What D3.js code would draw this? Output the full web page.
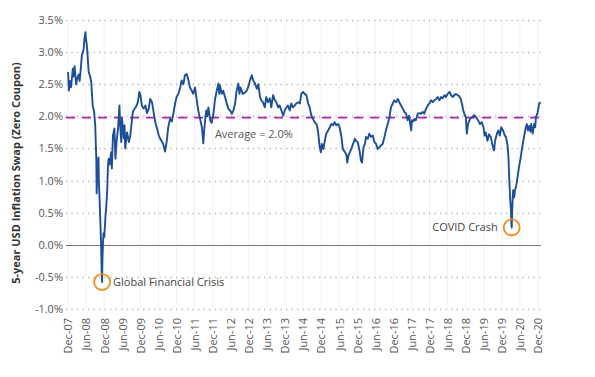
<!DOCTYPE html>
<html><head><meta charset="utf-8">
<script src="https://cdn.jsdelivr.net/npm/d3@7"></script>
<style>
html,body{margin:0;padding:0;background:#fff;}
svg{display:block;font-family:"Open Sans",sans-serif;}
</style></head>
<body><svg id="c" width="595" height="377"></svg>
<script>
// decimal year of each observation
const dates = [2007.92,2007.94,2007.97,2008.00,2008.05,2008.07,2008.10,2008.14,2008.17,2008.21,2008.24,2008.28,2008.30,2008.35,2008.37,2008.40,2008.41,2008.44,2008.47,2008.49,2008.53,2008.56,2008.60,2008.64,2008.67,2008.70,2008.71,2008.73,2008.76,2008.77,2008.79,2008.81,2008.83,2008.85,2008.86,2008.87,2008.89,2008.90,2008.92,2008.95,2008.97,2009.00,2009.02,2009.04,2009.07,2009.11,2009.13,2009.16,2009.20,2009.23,2009.26,2009.30,2009.34,2009.36,2009.39,2009.41,2009.46,2009.48,2009.50,2009.55,2009.60,2009.64,2009.67,2009.71,2009.76,2009.80,2009.85,2009.89,2009.92,2009.96,2010.01,2010.06,2010.10,2010.15,2010.19,2010.24,2010.29,2010.33,2010.38,2010.43,2010.47,2010.52,2010.55,2010.60,2010.65,2010.69,2010.74,2010.79,2010.83,2010.88,2010.92,2010.97,2011.02,2011.06,2011.11,2011.15,2011.20,2011.25,2011.29,2011.34,2011.38,2011.43,2011.48,2011.52,2011.57,2011.62,2011.66,2011.69,2011.74,2011.77,2011.80,2011.85,2011.89,2011.94,2011.98,2012.03,2012.08,2012.10,2012.12,2012.17,2012.21,2012.26,2012.31,2012.35,2012.40,2012.45,2012.49,2012.54,2012.58,2012.63,2012.66,2012.69,2012.75,2012.81,2012.86,2012.90,2012.95,2013.00,2013.04,2013.09,2013.14,2013.18,2013.23,2013.26,2013.31,2013.36,2013.40,2013.45,2013.50,2013.54,2013.59,2013.64,2013.68,2013.73,2013.77,2013.82,2013.87,2013.91,2013.96,2014.00,2014.05,2014.09,2014.14,2014.19,2014.23,2014.28,2014.33,2014.37,2014.42,2014.46,2014.51,2014.56,2014.60,2014.65,2014.69,2014.74,2014.79,2014.83,2014.88,2014.91,2014.94,2014.98,2015.02,2015.06,2015.11,2015.16,2015.20,2015.25,2015.29,2015.34,2015.39,2015.43,2015.48,2015.52,2015.57,2015.62,2015.64,2015.68,2015.72,2015.77,2015.80,2015.85,2015.88,2015.93,2015.98,2016.02,2016.05,2016.09,2016.13,2016.16,2016.21,2016.25,2016.30,2016.35,2016.39,2016.44,2016.48,2016.53,2016.58,2016.62,2016.67,2016.71,2016.76,2016.81,2016.85,2016.90,2016.94,2016.99,2017.04,2017.08,2017.13,2017.18,2017.22,2017.27,2017.31,2017.35,2017.39,2017.41,2017.43,2017.47,2017.50,2017.54,2017.59,2017.64,2017.68,2017.73,2017.77,2017.82,2017.87,2017.91,2017.96,2018.01,2018.05,2018.10,2018.14,2018.19,2018.24,2018.28,2018.33,2018.37,2018.42,2018.47,2018.51,2018.56,2018.60,2018.65,2018.69,2018.73,2018.78,2018.82,2018.85,2018.89,2018.92,2018.95,2018.98,2019.04,2019.10,2019.15,2019.20,2019.26,2019.31,2019.36,2019.41,2019.44,2019.47,2019.52,2019.56,2019.61,2019.65,2019.70,2019.73,2019.78,2019.82,2019.86,2019.90,2019.95,2020.00,2020.03,2020.07,2020.10,2020.12,2020.15,2020.17,2020.18,2020.19,2020.21,2020.23,2020.26,2020.28,2020.31,2020.35,2020.39,2020.44,2020.48,2020.53,2020.58,2020.61,2020.64,2020.68,2020.71,2020.73,2020.77,2020.81,2020.84,2020.86,2020.90,2020.93,2020.95,2020.99];
// 5-year USD inflation swap rate, %
const swapRate = [2.69,2.40,2.55,2.45,2.74,2.62,2.78,2.50,2.58,2.65,2.55,2.80,2.95,3.05,3.20,3.31,3.22,3.10,2.85,2.69,2.62,2.53,2.17,2.07,1.86,1.34,0.80,1.20,1.36,1.00,0.72,0.40,0.04,-0.45,-0.58,-0.20,0.10,0.18,0.12,0.41,0.55,0.82,1.19,1.34,1.25,1.44,1.19,1.70,1.81,1.34,1.60,1.81,2.17,1.86,1.60,1.97,1.66,1.86,1.50,1.75,1.60,1.70,1.86,2.07,2.12,2.15,2.22,2.38,2.33,2.17,2.12,2.17,2.05,2.12,2.27,2.22,2.05,1.91,1.81,1.70,1.65,1.60,1.57,1.45,1.62,1.83,1.96,1.92,2.04,2.20,2.30,2.35,2.45,2.56,2.50,2.64,2.66,2.56,2.45,2.40,2.35,2.45,2.25,2.09,1.96,1.83,1.58,1.83,2.09,2.00,2.14,1.94,1.90,2.04,2.25,2.40,2.51,2.35,2.48,2.35,2.40,2.30,2.20,2.12,2.09,2.04,2.09,2.20,2.40,2.51,2.35,2.45,2.35,2.37,2.40,2.45,2.56,2.64,2.56,2.51,2.43,2.50,2.30,2.25,2.22,2.14,2.30,2.22,2.28,2.14,2.33,2.25,2.22,2.14,2.17,2.09,2.01,2.09,2.14,2.17,2.09,2.20,2.14,2.17,2.20,2.22,2.20,2.35,2.38,2.35,2.33,2.20,2.14,2.01,1.96,1.91,1.88,1.78,1.52,1.44,1.57,1.49,1.62,1.73,1.78,1.83,1.88,1.86,1.91,1.86,1.88,1.83,1.68,1.49,1.45,1.40,1.28,1.40,1.45,1.52,1.57,1.65,1.62,1.60,1.47,1.31,1.28,1.52,1.57,1.68,1.65,1.73,1.68,1.70,1.60,1.57,1.49,1.52,1.55,1.57,1.68,1.78,1.88,1.99,2.14,2.20,2.25,2.22,2.27,2.22,2.17,2.12,2.07,2.04,1.94,2.01,1.85,1.78,1.94,1.92,1.96,1.94,2.04,2.05,2.04,2.07,2.04,2.12,2.17,2.20,2.25,2.22,2.25,2.27,2.30,2.25,2.30,2.28,2.33,2.30,2.35,2.38,2.33,2.30,2.33,2.35,2.33,2.32,2.27,2.18,2.09,2.02,1.99,1.73,1.88,1.96,1.99,2.02,1.99,1.94,1.88,1.91,1.83,1.70,1.75,1.62,1.72,1.68,1.57,1.47,1.62,1.73,1.78,1.70,1.83,1.78,1.70,1.68,1.57,1.36,1.05,0.69,0.53,0.33,0.27,0.64,0.85,0.74,0.85,0.90,1.05,1.21,1.36,1.52,1.68,1.83,1.88,1.78,1.85,1.76,1.88,1.73,1.88,1.83,1.99,2.04,2.14,2.20,2.22];
const tickLabels = ["Dec-07","Jun-08","Dec-08","Jun-09","Dec-09","Jun-10","Dec-10","Jun-11","Dec-11","Jun-12","Dec-12","Jun-13","Dec-13","Jun-14","Dec-14","Jun-15","Dec-15","Jun-16","Dec-16","Jun-17","Dec-17","Jun-18","Dec-18","Jun-19","Dec-19","Jun-20","Dec-20"];
const tickDates = [2007.917,2008.417,2008.917,2009.417,2009.917,2010.417,2010.917,2011.417,2011.917,2012.417,2012.917,2013.417,2013.917,2014.417,2014.917,2015.417,2015.917,2016.417,2016.917,2017.417,2017.917,2018.417,2018.917,2019.417,2019.917,2020.417,2020.917];
const yTicks = [-1.0,-0.5,0.0,0.5,1.0,1.5,2.0,2.5,3.0,3.5];
const averageRate = 1.98;
const averageLabel = "Average = 2.0%";
const averageLabelDate = 2011.98;
const annotations = [
  {label:"Global Financial Crisis", date:2008.86, value:-0.58, side:"right"},
  {label:"COVID Crash", date:2020.19, value:0.27, side:"left"}
];
const yTitle = "5-year USD Inflation Swap (Zero Coupon)";

const svg = d3.select("#c");
const plotLeft = 66, plotRight = 541;
const x = d3.scaleLinear().domain([tickDates[0], tickDates[tickDates.length-1]]).range([68, 538]);
const y = d3.scaleLinear().domain([-1, 3.5]).range([309, 20]);

// faint vertical grid
svg.append("g").selectAll("line").data(tickDates).join("line")
  .attr("x1", d=>x(d)).attr("x2", d=>x(d)).attr("y1", 20).attr("y2", 309)
  .attr("stroke", "#f2f2f2").attr("stroke-width", 1);

// horizontal dotted grid
svg.append("g").selectAll("line").data(yTicks.filter(d=>d!==0)).join("line")
  .attr("x1", plotLeft).attr("x2", plotRight)
  .attr("y1", d=>Math.round(y(d))+0.5).attr("y2", d=>Math.round(y(d))+0.5)
  .attr("stroke", "#b5b5b5").attr("stroke-width", 1.3).attr("stroke-dasharray", "1.3,4.2");

// zero line
svg.append("line").attr("x1", plotLeft).attr("x2", plotRight)
  .attr("y1", Math.round(y(0))+0.5).attr("y2", Math.round(y(0))+0.5)
  .attr("stroke", "#777").attr("stroke-width", 1);

// y axis
const yAxis = d3.axisLeft(y).tickValues(yTicks).tickSize(0).tickPadding(3)
  .tickFormat(d => d.toFixed(1) + "%");
const gy = svg.append("g").attr("transform", `translate(${plotLeft},0)`).call(yAxis);
gy.select(".domain").remove();
gy.selectAll("text").attr("fill", "#555").attr("font-size", "11px").attr("font-family", "Open Sans");

// x axis
const xAxis = d3.axisBottom(x).tickValues(tickDates).tickSize(0)
  .tickFormat((d,i) => tickLabels[i]);
const gx = svg.append("g").attr("transform", `translate(0,313)`).call(xAxis);
gx.select(".domain").remove();
gx.selectAll("text").attr("fill", "#555").attr("font-size", "11px").attr("font-family", "Open Sans")
  .attr("transform", "rotate(-90)").attr("text-anchor", "end").attr("dy", "0.35em").attr("y", 0).attr("x", -5);

// average line
svg.append("line").attr("x1", plotLeft).attr("x2", plotRight)
  .attr("y1", y(averageRate)).attr("y2", y(averageRate))
  .attr("stroke", "#b21fb5").attr("stroke-width", 1.6).attr("stroke-dasharray", "9,7");

// data line
const series = dates.map((d,i)=>({d, v: swapRate[i]}));
svg.append("path").datum(series)
  .attr("fill", "none").attr("stroke", "#1d4f98").attr("stroke-width", 1.9)
  .attr("stroke-linejoin", "round")
  .attr("d", d3.line().x(p=>x(p.d)).y(p=>y(p.v)));

svg.append("text").attr("x", x(averageLabelDate)).attr("y", y(averageRate)+20)
  .attr("fill", "#555").attr("font-size", "11px").text(averageLabel);

// annotations
annotations.forEach(a => {
  const cx = x(a.date), cy = y(a.value);
  svg.append("circle").attr("cx", cx).attr("cy", cy).attr("r", 8)
    .attr("fill", "none").attr("stroke", "#f38b1c").attr("stroke-width", 1.8);
  svg.append("text")
    .attr("x", a.side === "right" ? cx + 11 : cx - 14)
    .attr("y", cy + 4)
    .attr("text-anchor", a.side === "right" ? "start" : "end")
    .attr("fill", "#444").attr("font-size", "11px").text(a.label);
});

// y title
svg.append("text").attr("transform", `translate(20,${173}) rotate(-90)`)
  .attr("text-anchor", "middle").attr("font-size", "11px").attr("font-weight", "bold")
  .attr("fill", "#333").text(yTitle);
</script></body></html>
